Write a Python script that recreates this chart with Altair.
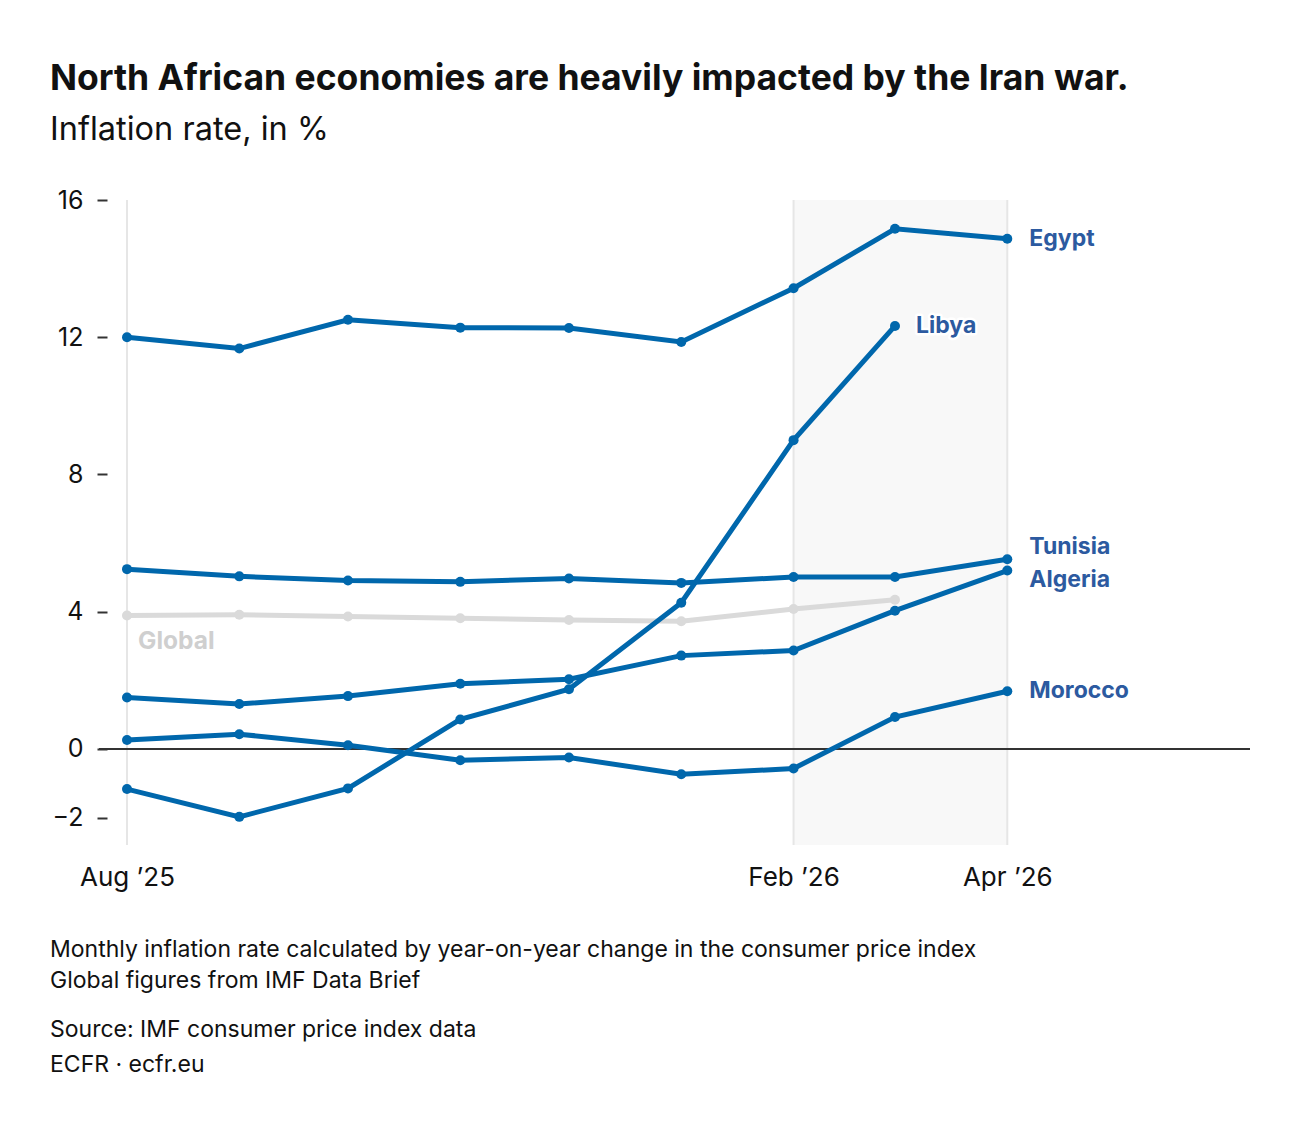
import altair as alt
import pandas as pd

months = ["2025-08-01", "2025-09-01", "2025-10-01", "2025-11-01", "2025-12-01",
          "2026-01-01", "2026-02-01", "2026-03-01", "2026-04-01"]
egypt = [12.0, 11.67, 12.51, 12.28, 12.27, 11.86, 13.43, 15.16, 14.87]
libya = [-1.17, -1.98, -1.15, 0.86, 1.74, 4.26, 9.0, 12.33]
tunisia = [5.24, 5.03, 4.91, 4.87, 4.97, 4.84, 5.01, 5.01, 5.53]
algeria = [1.50, 1.31, 1.54, 1.90, 2.03, 2.72, 2.87, 4.03, 5.20]
morocco = [0.26, 0.43, 0.11, -0.33, -0.25, -0.74, -0.57, 0.93, 1.68]
global_ = [3.89, 3.91, 3.86, 3.81, 3.76, 3.72, 4.08, 4.35]

countries = ["Egypt", "Libya", "Tunisia", "Algeria", "Morocco"]
country_values = [egypt, libya, tunisia, algeria, morocco]
tick_dates = [months[0], months[6], months[8]]
y_ticks = [-2, 0, 4, 8, 12, 16]

title = "North African economies are heavily impacted by the Iran war."
subtitle = "Inflation rate, in %"
notes = ["Monthly inflation rate calculated by year-on-year change in the consumer price index",
         "Global figures from IMF Data Brief"]
source = "Source: IMF consumer price index data"
credit = "ECFR · ecfr.eu"

rows = []
for name, vals in zip(countries, country_values):
    for m, v in zip(months, vals):
        rows.append({"country": name, "date": m, "value": v})
df = pd.DataFrame(rows)
gdf = pd.DataFrame({"country": "Global", "date": months[:len(global_)], "value": global_})

FONT = "Inter"
LINE = "#0067ac"
LABEL = "#2c5aa0"
GREY = "#dadada"
W, H = 1123, 645

xscale = alt.Scale(type="utc", domain=[alt.DateTime(year=2025, month=8, date=1, utc=True),
                                       alt.DateTime(year=2026, month=6, date=7, utc=True)])
yscale = alt.Scale(domain=[-2.8, 16], nice=False, zero=False)

xaxis = alt.Axis(values=[alt.DateTime(year=int(d[:4]), month=int(d[5:7]), date=1, utc=True) for d in tick_dates],
                 labelExpr="utcFormat(datum.value, '%b ’%y')", grid=False, ticks=False, domain=False,
                 labelFlush=False, labelAlign="center",
                 labelFontSize=26, labelPadding=19, labelColor="#111", labelFont=FONT, title=None)
yaxis = alt.Axis(values=y_ticks, offset=20, tickSize=10, tickWidth=2, tickColor="#333", domain=False,
                 grid=False, labelFontSize=25, labelPadding=14, labelColor="#111", labelFont=FONT,
                 labelExpr="datum.value < 0 ? '\u2212' + format(abs(datum.value), 'd') : datum.label",
                 title=None)

X = lambda f: alt.X(f, scale=xscale, axis=xaxis)
Y = lambda f: alt.Y(f, scale=yscale, axis=yaxis)

shade = alt.Chart(pd.DataFrame({"start": [months[6]], "end": [months[8]]})).mark_rect(color="#f8f8f8").encode(
    x=X("start:T"), x2="end:T", y=alt.value(0), y2=alt.value(H))

grid = alt.Chart(pd.DataFrame({"date": tick_dates})).mark_rule(color="#e6e6e6", strokeWidth=2).encode(
    x=X("date:T"), y=alt.value(0), y2=alt.value(H))

zero = alt.Chart(pd.DataFrame({"v": [0]})).mark_rule(color="#333", strokeWidth=2).encode(
    y=Y("v:Q"), x=alt.value(-28), x2=alt.value(W))

gline = alt.Chart(gdf).mark_line(color=GREY, strokeWidth=5).encode(x=X("date:T"), y=Y("value:Q"))
gpts = alt.Chart(gdf).mark_circle(color=GREY, size=100, opacity=1).encode(x=X("date:T"), y=Y("value:Q"))

lines = alt.Chart(df).mark_line(color=LINE, strokeWidth=5).encode(
    x=X("date:T"), y=Y("value:Q"), detail="country:N")
pts = alt.Chart(df).mark_circle(color=LINE, size=100, opacity=1).encode(x=X("date:T"), y=Y("value:Q"))

last_rows = []
for name, vals in zip(countries, country_values):
    last_rows.append({"country": name, "date": months[len(vals) - 1], "value": vals[-1]})
ldf = pd.DataFrame(last_rows)

offsets = {"Egypt": (22, 0), "Libya": (21, 0), "Tunisia": (22, -12), "Algeria": (22, 9), "Morocco": (22, 0)}
label_layers = []
for name in countries:
    dx, dy = offsets[name]
    base = alt.Chart(ldf).transform_filter(alt.datum.country == name).encode(
        x=X("date:T"), y=Y("value:Q"), text="country:N")
    label_layers.append(base.mark_text(align="left", baseline="middle", dx=dx, dy=dy, font=FONT,
                                       fontWeight="bold", fontSize=23, stroke="white", strokeWidth=5,
                                       strokeJoin="round", color="white"))
    label_layers.append(base.mark_text(align="left", baseline="middle", dx=dx, dy=dy, font=FONT,
                                       fontWeight="bold", fontSize=23, color=LABEL))

glabel = alt.Chart(gdf.iloc[[0]]).mark_text(align="left", baseline="middle", dx=11, dy=27, font=FONT,
                                            fontWeight="bold", fontSize=24.5, color="#cfcfcf").encode(
    x=X("date:T"), y=Y("value:Q"), text="country:N")


def txt(s, x, y, size, weight="normal", color="#111"):
    return alt.Chart(pd.DataFrame({"t": [s]})).mark_text(
        align="left", baseline="alphabetic", font=FONT, fontSize=size, fontWeight=weight, color=color
    ).encode(x=alt.value(x), y=alt.value(y), text="t:N")


texts = [
    txt(title, -77, -110, 35.5, "bold"),
    txt(subtitle, -77, -60, 32.5),
    txt(notes[0], -77, 757, 23),
    txt(notes[1], -77, 788, 23),
    txt(source, -77, 837, 23),
    txt(credit, -77, 872, 23),
]

chart = alt.layer(shade, grid, zero, gline, gpts, lines, pts, glabel, *label_layers, *texts).properties(
    width=W, height=H,
    padding={"left": 127, "top": 200, "right": 50, "bottom": 287},
    autosize=alt.AutoSizeParams(type="none"),
).configure(font=FONT, background="white").configure_view(stroke=None)

chart.save("out.html", embed_options={"renderer": "svg", "actions": False})
